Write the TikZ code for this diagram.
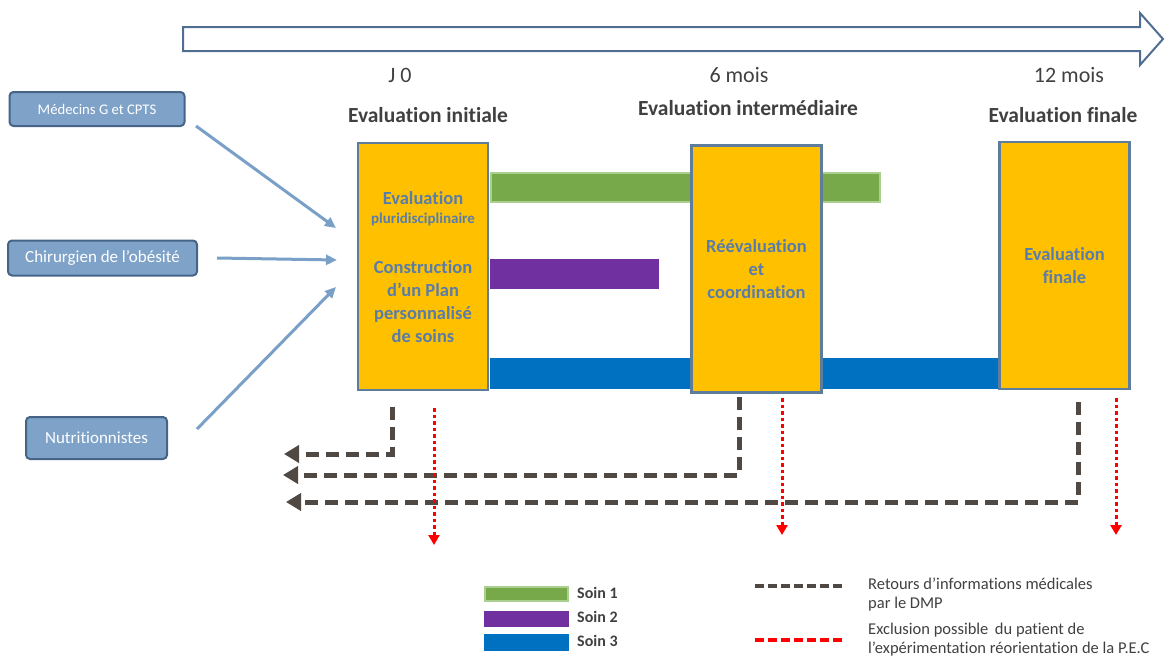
\documentclass[tikz,border=0pt]{standalone}
\usepackage{fontspec}
\setmainfont{Carlito}[Ligatures={TeX,NoCommon}]
\usetikzlibrary{arrows.meta}
\definecolor{ybox}{RGB}{255,192,0}
\definecolor{yborder}{RGB}{94,124,155}
\definecolor{btext}{RGB}{88,125,170}
\definecolor{lfill}{RGB}{126,162,200}
\definecolor{lborder}{RGB}{70,100,135}
\definecolor{larrow}{RGB}{122,160,200}
\definecolor{tarrow}{RGB}{80,110,145}
\definecolor{dgray}{RGB}{64,64,64}
\definecolor{dashcol}{RGB}{80,72,66}
\definecolor{sgreen}{RGB}{119,169,74}
\definecolor{sgreenb}{RGB}{169,208,142}
\definecolor{spurple}{RGB}{112,48,160}
\definecolor{sblue}{RGB}{0,112,192}
\tikzset{
  evalbox/.style={draw=yborder,line width=2.5pt,fill=ybox,minimum width=130pt,minimum height=247pt,inner sep=0pt,
    text=btext,font=\fontsize{18.5}{23}\selectfont\bfseries,align=center},
  evaltext/.style={text=btext,font=\fontsize{18.5}{23}\selectfont\bfseries,align=center},
  srcbox/.style={draw=lborder,line width=2pt,fill=lfill,rounded corners=4pt,text=white,inner sep=0pt},
  srcarrow/.style={draw=larrow,line width=3pt,-{Triangle[length=11pt,width=10pt]}},
  retarrow/.style={draw=dashcol,line width=5pt,dash pattern=on 13pt off 7pt,-{Triangle[length=15pt,width=17pt]}},
  exarrow/.style={draw=red,line width=3pt,dash pattern=on 3.5pt off 3pt,-{Triangle[length=10pt,width=11pt]}},
  toplab/.style={text=dgray,font=\fontsize{22}{24}\selectfont},
  head/.style={text=dgray,font=\fontsize{21.5}{24}\selectfont\bfseries},
  legtext/.style={text=dgray,font=\fontsize{16.5}{19}\selectfont,align=left,anchor=west,inner sep=0pt},
  soin/.style={text=dgray,font=\fontsize{16}{20}\selectfont\bfseries,anchor=west,inner sep=0pt}
}
\begin{document}
\begin{tikzpicture}[x=1pt,y=-1pt]
\useasboundingbox (0,0) rectangle (1165,659);
% time arrow
\draw[tarrow,line width=2pt,fill=white,line join=miter] (183,27) -- (1140,27) -- (1140,13) -- (1163,39) -- (1140,65) -- (1140,51) -- (183,51) -- cycle;
\node[toplab] (t0) at (400,75) {J 0};
\node[toplab] (t6) at (739,75) {6 mois};
\node[toplab] (t12) at (1069,75) {12 mois};
\node[head] (h1) at (428,115) {Evaluation initiale};
\node[head] (h2) at (748,108) {Evaluation intermédiaire};
\node[head] (h3) at (1063,115) {Evaluation finale};
% bars
\path[fill=sgreen,draw=sgreenb,line width=2pt] (491,173) rectangle (880,202);
\path[fill=spurple] (490,259) rectangle (659,289);
\path[fill=sblue] (490,358) rectangle (1000,389);
% evaluation boxes
\node[evalbox] (b1) at (423,266.5) {};
\node[evaltext] (b1a) at (423,198) {Evaluation};
\node[text=btext,font=\fontsize{15}{17}\selectfont\bfseries] (b1b) at (423,219) {pluridisciplinaire};
\node[evaltext] (b1c) at (423,301.5) {Construction\\d’un Plan\\personnalisé\\de soins};
\node[evalbox] (b2) at (756.5,269) {Réévaluation\\et\\coordination};
\node[evalbox] (b3) at (1064.5,265.5) {Evaluation\\finale};
% source boxes
\node[srcbox,minimum width=175pt,minimum height=34pt,font=\fontsize{14.7}{16}\selectfont] (m1) at (97,109) {Médecins G et CPTS};
\node[srcbox,minimum width=189pt,minimum height=35pt,font=\fontsize{17}{20}\selectfont] (m2) at (102.5,258) {Chirurgien de l’obésité};
\node[srcbox,minimum width=141pt,minimum height=42pt,font=\fontsize{17}{20}\selectfont] (m3) at (96.5,438) {Nutritionnistes};
\coordinate (a1s) at (196,126); \coordinate (a1e) at (336,228);
\coordinate (a2s) at (217,258); \coordinate (a2e) at (337,260);
\coordinate (a3s) at (197,429); \coordinate (a3e) at (336,287);
\draw[srcarrow] (a1s) -- (a1e);
\draw[srcarrow] (a2s) -- (a2e);
\draw[srcarrow] (a3s) -- (a3e);
% return arrows
\coordinate (r1s) at (392,407); \coordinate (r1e) at (284,454);
\coordinate (r2s) at (739,397); \coordinate (r2e) at (283,475);
\coordinate (r3s) at (1078,402); \coordinate (r3e) at (286,502);
\draw[retarrow] (r1s) |- (r1e);
\draw[retarrow] (r2s) |- (r2e);
\draw[retarrow] (r3s) |- (r3e);
% exclusion arrows
\coordinate (e1s) at (434,408); \coordinate (e1e) at (434,545);
\coordinate (e2s) at (782,398); \coordinate (e2e) at (782,535);
\coordinate (e3s) at (1116,398); \coordinate (e3e) at (1116,535);
\draw[exarrow] (e1s) -- (e1e);
\draw[exarrow] (e2s) -- (e2e);
\draw[exarrow] (e3s) -- (e3e);
% legend
\path[fill=sgreen,draw=sgreenb,line width=2pt] (485,587) rectangle (568,601);
\path[fill=spurple] (484,611) rectangle (569,627);
\path[fill=sblue] (484,634) rectangle (569,651);
\node[soin] (s1) at (577,593) {Soin 1};
\node[soin] (s2) at (577,617) {Soin 2};
\node[soin] (s3) at (577,641) {Soin 3};
\coordinate (l1s) at (755,586); \coordinate (l1e) at (845,586);
\coordinate (l2s) at (755,640); \coordinate (l2e) at (845,640);
\draw[dashcol,line width=4pt,dash pattern=on 9pt off 4pt] (l1s) -- (l1e);
\draw[red,line width=3.5pt,dash pattern=on 9pt off 4pt] (l2s) -- (l2e);
\node[legtext] (lt1) at (868,595) {Retours d’informations médicales\\par le DMP};
\node[legtext] (lt2) at (868,639.5) {Exclusion possible\, du patient de\\l’expérimentation réorientation de la P.E.C};
\end{tikzpicture}
\end{document}
